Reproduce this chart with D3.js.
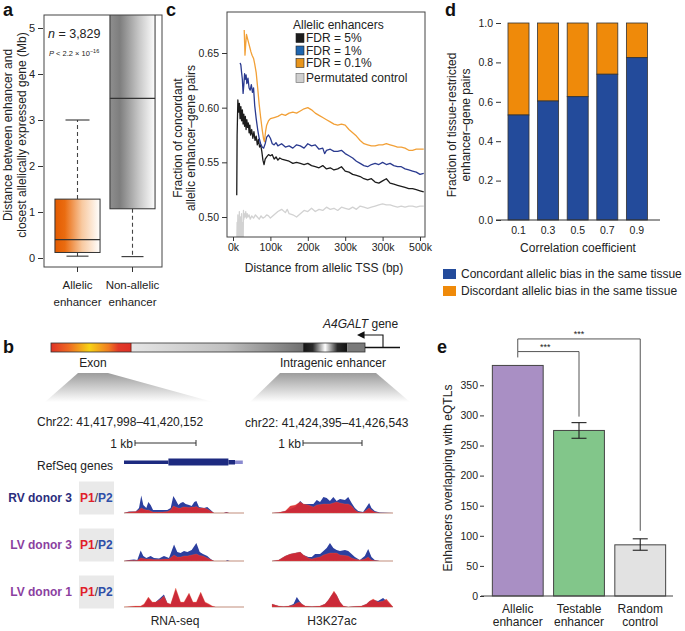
<!DOCTYPE html>
<html><head><meta charset="utf-8">
<script src="https://cdn.jsdelivr.net/npm/d3@7"></script>
<style>
body{margin:0;background:#fff}
svg{display:block}
text{font-family:"Liberation Sans",Arial,Helvetica,sans-serif}
</style>
</head><body><svg id="fig" width="685" height="631"></svg>
<script>
// ================= DATA =================
// Panel a
const boxCategories = ["Allelic enhancer", "Non-allelic enhancer"];
const boxLowerWhisker = [0.04, 0.03];
const boxQ1 = [0.12, 1.07];
const boxMedian = [0.40, 3.47];
const boxQ3 = [1.28, 6.0];
const boxUpperWhisker = [3.0, 8.0];
const boxYTicks = [0, 1, 2, 3, 4, 5];

// Panel c
const fdr5Dist = [10,11,13,15,17,19,21,23,25,27,29,31,33,35,37,39,41,43,45,47,50,53,56,59,62,65,68,71,74,77,80,83,86,90,95,100,105,110,115,120,125,130,140,150,160,170,180,190,200,210,220,230,240,250,260,270,280,290,300,310,320,330,340,350,360,370,380,390,400,410,420,430,440,450,460,470,480,490,500,510];
const fdr5Frac = [0.520,0.575,0.607,0.596,0.604,0.590,0.601,0.588,0.598,0.585,0.594,0.583,0.592,0.580,0.589,0.582,0.586,0.577,0.584,0.575,0.580,0.572,0.578,0.570,0.574,0.566,0.571,0.564,0.566,0.560,0.552,0.548,0.553,0.555,0.557,0.556,0.557,0.553,0.555,0.552,0.554,0.553,0.552,0.551,0.549,0.550,0.549,0.548,0.549,0.547,0.546,0.545,0.547,0.544,0.545,0.543,0.544,0.546,0.542,0.541,0.539,0.538,0.537,0.535,0.534,0.535,0.532,0.531,0.533,0.535,0.531,0.530,0.529,0.528,0.527,0.526,0.526,0.525,0.524,0.523];
const fdr1Dist = [19,21,23,25,27,29,31,33,35,37,40,43,46,49,52,55,58,62,66,70,74,78,82,86,90,95,100,105,110,115,120,130,140,150,160,170,180,190,200,210,220,230,240,245,250,260,270,280,290,300,310,320,330,340,350,360,370,380,390,400,410,420,430,440,450,460,470,480,490,500,510];
const fdr1Frac = [0.641,0.639,0.632,0.626,0.613,0.621,0.631,0.626,0.630,0.622,0.627,0.618,0.616,0.621,0.614,0.618,0.602,0.590,0.580,0.572,0.567,0.564,0.563,0.567,0.573,0.575,0.572,0.567,0.566,0.568,0.565,0.567,0.564,0.565,0.563,0.566,0.565,0.563,0.567,0.565,0.566,0.562,0.563,0.558,0.561,0.562,0.560,0.560,0.561,0.558,0.556,0.554,0.551,0.549,0.547,0.546,0.548,0.549,0.548,0.550,0.548,0.549,0.547,0.546,0.546,0.544,0.543,0.542,0.541,0.539,0.540];
const fdr01Dist = [30,31,32,34,36,39,42,45,48,51,55,58,62,66,70,74,78,82,84,87,90,95,100,110,120,130,140,150,160,170,180,190,200,210,220,230,240,250,260,270,280,290,300,310,320,330,340,350,360,370,380,390,400,410,420,430,440,450,460,470,480,490,500,510];
const fdr01Frac = [0.671,0.660,0.648,0.658,0.667,0.663,0.659,0.655,0.651,0.648,0.645,0.640,0.632,0.618,0.603,0.591,0.580,0.571,0.569,0.578,0.584,0.588,0.590,0.591,0.592,0.594,0.593,0.595,0.596,0.595,0.597,0.599,0.600,0.598,0.595,0.593,0.591,0.589,0.587,0.585,0.584,0.585,0.584,0.580,0.577,0.574,0.570,0.567,0.566,0.565,0.565,0.566,0.566,0.567,0.566,0.565,0.564,0.564,0.563,0.561,0.561,0.562,0.562,0.562];
const permDist = [10,11,12,13,14,15,16,17,18,19,20,21,22,23,24,25,26,27,28,29,30,32,34,36,38,40,43,46,50,55,60,65,70,75,80,85,90,95,100,110,120,130,140,145,150,160,170,180,190,200,210,220,230,240,250,260,270,280,290,300,310,320,330,340,350,360,370,380,390,400,410,420,430,440,450,460,470,480,490,500,510];
const permFrac = [0.470,0.495,0.478,0.502,0.470,0.497,0.485,0.505,0.470,0.490,0.500,0.470,0.478,0.503,0.470,0.470,0.495,0.470,0.506,0.498,0.503,0.500,0.505,0.499,0.503,0.500,0.502,0.498,0.501,0.499,0.502,0.500,0.498,0.501,0.499,0.500,0.502,0.501,0.499,0.502,0.505,0.507,0.504,0.507,0.503,0.502,0.500,0.503,0.506,0.505,0.508,0.505,0.507,0.506,0.509,0.507,0.508,0.506,0.509,0.508,0.507,0.509,0.507,0.510,0.509,0.508,0.509,0.510,0.511,0.512,0.511,0.511,0.510,0.509,0.510,0.509,0.510,0.510,0.509,0.510,0.510];
const cXTicks = [0, 100, 200, 300, 400, 500];
const cXTickLabels = ["0k", "100k", "200k", "300k", "300k", "500k"];
const cYTicks = [0.50, 0.55, 0.60, 0.65];
const cLegendLabels = ["FDR = 5%", "FDR = 1%", "FDR = 0.1%", "Permutated control"];

// Panel d
const corrCategories = ["0.1", "0.3", "0.5", "0.7", "0.9"];
const concordantFrac = [0.533, 0.604, 0.626, 0.740, 0.824];
const discordantFrac = [0.467, 0.396, 0.374, 0.260, 0.176];
const dYTicks = [0, 0.2, 0.4, 0.6, 0.8, 1.0];

// Panel e
const eqtlCategories = ["Allelic enhancer", "Testable enhancer", "Random control"];
const eqtlCounts = [383, 275, 85];
const eqtlErrLow = [null, 262, 76];
const eqtlErrHigh = [null, 288, 95];
const eYTicks = [0, 50, 100, 150, 200, 250, 300, 350];

// Panel b tracks (position = % of window, heights in signal units)
const rna1Pos = [0,4.2,9.7,12.5,14.4,16.1,18.6,20.3,22.2,24.2,27.8,31.9,36.1,38.9,41.1,43.1,45.3,47.2,49.2,51.4,54.2,56.4,58.6,60.3,62.5,66.7,69.4,72.2,75,83.3,85.3,87.5,100];
const rna1P2 = [0,1.5,1.5,5,17.5,8,5,11,8,3,3,3,3,5,17,13,8,10,11,9,8,7,11,12,6,5,6,3,0,0,1,0,0];
const rna1P1 = [0,1,1.5,3,5,4,3,3,2,1,1,1,1.5,3,7,6,5,5,6,6,5.5,6,6,6.5,5,5,4,2,0,0,0.5,0,0];
const rna2Pos = [0,4.2,8.3,11.1,13.9,16.1,18.6,22.2,25,29.2,33.3,37.5,41.7,44.4,47.2,50,52.8,56.4,60.3,63.1,65.8,69.4,72.2,75,84.7,86.1,88.1,100];
const rna2P2 = [0,1,1.5,1,10.5,5,3,5,3,2.5,5,3,16.5,9,8,10,9,11,18,9,7,5,2,0,0,0.8,0,0];
const rna2P1 = [0,0.5,0.5,0.5,3,2.5,2,2,1.5,1.5,2,2,6,4,4,5,5,6,7,5.5,5,3,1.5,0,0,0,0,0];
const rna3Pos = [0,2.8,9.7,13.9,16.7,20.3,23.6,26.4,30.6,33.3,36.1,38.9,43.1,47.2,50,54.2,57.5,60.3,63.9,67.5,70.8,73.6,76.4,87.5,100];
const rna3P2 = [0,0,0.5,0.5,2,9,4,5,9.5,12.5,4,2.5,17,4,4,13,4,4,14,4,2,0.5,0,0,0];
const rna3P1 = [0,0.3,1,1,3,10,5,5,8,11,4,3,19,5,5,14,5,5,15,5,3,1,0,0,0];
const k27a1Pos = [0,5.5,11,15.1,19.2,23.3,26,30.1,34.2,37,39.7,42.5,45.2,47.9,50.7,53.4,56.2,60.3,63,65.8,68.5,71.2,75.3,78.1,80.3,82.2,84.9,89,100];
const k27a1P2 = [0,0.5,2,4,6,12,9,9,9,13,11,16,15,12,16,12,14,13,16,10,5,2,1,6,10,5,2,0.5,0];
const k27a1P1 = [0,0.5,2,7,8,11,9,8,6,8,8.5,9,9,9,10,11,10,9,9,7,3,1,0.5,3,5,3,1,0,0];
const k27a2Pos = [0,5.5,11,15.1,19.2,23.3,26,30.1,32.9,35.6,39.7,42.5,45.2,47.9,50.7,53.4,56.2,60.3,63,65.8,68.5,72.6,76.7,79.5,82.2,84.9,89,100];
const k27a2P2 = [0,1,5,7,8,9,6,4,4,7,7,10,13,18,13,11,10,11,10,7,4,1,5,12,4,1,0,0];
const k27a2P1 = [0,1,5,7,8,9,6,3,2,3,4,6,7,8,8,8,6,5.5,5,3,2,1,2,4,1,0.5,0,0];
const k27a3Pos = [0,2.7,5.5,9.6,13.7,17.8,20.5,22.7,24.7,27.4,32.9,39.7,43.8,46.6,49.3,51.2,53.4,56.2,58.9,63,67.1,74,78.1,80.8,83.6,87.7,91.8,94.5,97.3,100];
const k27a3P2 = [3,2,1,0.5,1,3,10,6,3,1,0.5,1,3,7,12,15,12,5,1,0,0.5,1,3,6,7,6,9,6,3,0];
const k27a3P1 = [3,2,1,0.5,1,2,4,5,3,1,0.5,1,3,7,12,16,12,5,1,0,0.5,1,3,6,8,5,6,8,4,0];
const donorLabels = ["RV donor 3", "LV donor 3", "LV donor 1"];

// ================= DRAW =================
const svg = d3.select("#fig").attr("fill", "#222");
svg.append("rect").attr("width", 685).attr("height", 631).attr("fill", "#fff");
const defs = svg.append("defs");
function lin(id, stops, vertical) {
  const g = defs.append("linearGradient").attr("id", id)
    .attr("x1", 0).attr("y1", 0).attr("x2", vertical ? 0 : 1).attr("y2", vertical ? 1 : 0);
  stops.forEach(s => g.append("stop").attr("offset", s[0]).attr("stop-color", s[1]));
}
lin("gOrange", [["0%", "#e35a00"], ["22%", "#ea6c10"], ["60%", "#f8c9a0"], ["100%", "#ffffff"]]);
lin("gGray", [["0%", "#8e8e8e"], ["22%", "#7e7e7e"], ["65%", "#c8c8c8"], ["100%", "#fdfdfd"]]);
lin("gExon", [["0%", "#df3226"], ["22%", "#ee6a22"], ["48%", "#f7d214"], ["72%", "#f07c22"], ["84%", "#e23a28"], ["100%", "#de3026"]]);
lin("gBody", [["0%", "#e6e6e6"], ["55%", "#c0c0c0"], ["100%", "#707070"]]);
lin("gEnh", [["0%", "#141414"], ["22%", "#2a2a2a"], ["50%", "#ffffff"], ["78%", "#2a2a2a"], ["100%", "#111"]]);
lin("gTrap", [["0%", "#9c9c9c"], ["100%", "#ffffff"]], true);

function label(x, y, s) {
  svg.append("text").attr("x", x).attr("y", y).text(s)
    .attr("font-size", 18).attr("font-weight", "bold").attr("fill", "#111");
}
function rotText(x, y, s, size) {
  svg.append("text").attr("transform", `translate(${x},${y}) rotate(-90)`)
    .attr("text-anchor", "middle").attr("dy", "0.35em").attr("font-size", size || 12).text(s);
}
function styleAxis(g, size) {
  g.select(".domain").remove();
  g.selectAll(".tick line").attr("stroke", "#333");
  g.selectAll(".tick text").attr("font-size", size || 10.5).attr("fill", "#222")
    .attr("font-family", '"Liberation Sans",Arial,sans-serif');
}

// ---------- Panel a ----------
label(3, 16, "a");
const aFrame = { x0: 44, x1: 162, y0: 15, y1: 267 };
const aY = d3.scaleLinear().domain([0, 5]).range([258, 28]);
const aX = d3.scaleBand().domain(boxCategories).range([50, 160]);
defs.append("clipPath").attr("id", "clipA").append("rect")
  .attr("x", aFrame.x0).attr("y", aFrame.y0).attr("width", aFrame.x1 - aFrame.x0).attr("height", aFrame.y1 - aFrame.y0);
const aG = svg.append("g").attr("clip-path", "url(#clipA)");
const boxW = aX.bandwidth() * 0.82;
const fills = ["url(#gOrange)", "url(#gGray)"];
boxCategories.forEach((c, i) => {
  const cx = aX(c) + aX.bandwidth() / 2;
  aG.append("line").attr("x1", cx).attr("x2", cx).attr("y1", aY(boxQ1[i])).attr("y2", aY(boxLowerWhisker[i]))
    .attr("stroke", "#444").attr("stroke-dasharray", "4,3").attr("stroke-width", 1.1);
  aG.append("line").attr("x1", cx - 11).attr("x2", cx + 11).attr("y1", aY(boxLowerWhisker[i])).attr("y2", aY(boxLowerWhisker[i]))
    .attr("stroke", "#333").attr("stroke-width", 1.1);
  aG.append("line").attr("x1", cx).attr("x2", cx).attr("y1", aY(boxQ3[i])).attr("y2", aY(boxUpperWhisker[i]))
    .attr("stroke", "#444").attr("stroke-dasharray", "4,3").attr("stroke-width", 1.1);
  aG.append("line").attr("x1", cx - 12).attr("x2", cx + 12).attr("y1", aY(boxUpperWhisker[i])).attr("y2", aY(boxUpperWhisker[i]))
    .attr("stroke", "#333").attr("stroke-width", 1.1);
  aG.append("rect").attr("x", cx - boxW / 2).attr("width", boxW)
    .attr("y", aY(boxQ3[i])).attr("height", aY(boxQ1[i]) - aY(boxQ3[i]))
    .attr("fill", fills[i]).attr("stroke", "#333").attr("stroke-width", 1);
  aG.append("line").attr("x1", cx - boxW / 2).attr("x2", cx + boxW / 2).attr("y1", aY(boxMedian[i])).attr("y2", aY(boxMedian[i]))
    .attr("stroke", "#333").attr("stroke-width", 1.2);
});
svg.append("rect").attr("x", aFrame.x0).attr("y", aFrame.y0).attr("width", aFrame.x1 - aFrame.x0).attr("height", aFrame.y1 - aFrame.y0)
  .attr("fill", "none").attr("stroke", "#444").attr("stroke-width", 1);
const aYAxis = svg.append("g").attr("transform", `translate(${aFrame.x0 - 1},0)`)
  .call(d3.axisLeft(aY).tickValues(boxYTicks).tickSize(5).tickPadding(3).tickFormat(d3.format("d")));
styleAxis(aYAxis, 11);
const aXAxis = svg.append("g").attr("transform", `translate(0,${aFrame.y1})`)
  .call(d3.axisBottom(aX).tickSize(5).tickFormat(""));
styleAxis(aXAxis);
boxCategories.forEach(c => {
  const cx = aX(c) + aX.bandwidth() / 2;
  const parts = c.split(" ");
  svg.append("text").attr("x", cx).attr("y", 289).attr("text-anchor", "middle").attr("font-size", 11.5).text(parts[0]);
  svg.append("text").attr("x", cx).attr("y", 306).attr("text-anchor", "middle").attr("font-size", 11.5).text(parts[1]);
});
rotText(8, 135, "Distance between enhancer and", 12);
rotText(22, 135, "closest allelically expressed gene (Mb)", 12);
const nT = svg.append("text").attr("x", 48).attr("y", 38).attr("font-size", 12.5);
nT.append("tspan").attr("font-style", "italic").text("n");
nT.append("tspan").text(" = 3,829");
const pT = svg.append("text").attr("x", 49).attr("y", 56).attr("font-size", 7.5);
pT.append("tspan").attr("font-style", "italic").text("P");
pT.append("tspan").text(" < 2.2 × 10");
pT.append("tspan").attr("font-size", 5.5).attr("dy", -3).text("−16");

// ---------- Panel c ----------
label(166, 16, "c");
const cFrame = { x0: 227, x1: 425, y0: 12, y1: 237 };
const cX = d3.scaleLinear().domain([0, 500]).range([233, 420]);
const cY = d3.scaleLinear().domain([0.50, 0.65]).range([217, 53]);
defs.append("clipPath").attr("id", "clipC").append("rect")
  .attr("x", cFrame.x0).attr("y", cFrame.y0).attr("width", cFrame.x1 - cFrame.x0).attr("height", cFrame.y1 - cFrame.y0);
const cG = svg.append("g").attr("clip-path", "url(#clipC)");
const series = [
  { d: permDist, f: permFrac, c: "#d2d2d2" },
  { d: fdr5Dist, f: fdr5Frac, c: "#1c1c1c" },
  { d: fdr1Dist, f: fdr1Frac, c: "#2a3a8f" },
  { d: fdr01Dist, f: fdr01Frac, c: "#f2a037" }
];
series.forEach(s => {
  const line = d3.line().x((d, i) => cX(s.d[i])).y(d => cY(d));
  cG.append("path").attr("d", line(s.f)).attr("fill", "none").attr("stroke", s.c)
    .attr("stroke-width", 1.3).attr("stroke-linejoin", "round");
});
svg.append("rect").attr("x", cFrame.x0).attr("y", cFrame.y0).attr("width", cFrame.x1 - cFrame.x0).attr("height", cFrame.y1 - cFrame.y0)
  .attr("fill", "none").attr("stroke", "#444").attr("stroke-width", 1);
const cYAxis = svg.append("g").attr("transform", `translate(${cFrame.x0},0)`)
  .call(d3.axisLeft(cY).tickValues(cYTicks).tickSize(5).tickPadding(3).tickFormat(d3.format(".2f")));
styleAxis(cYAxis, 10.5);
const cXAxis = svg.append("g").attr("transform", `translate(0,${cFrame.y1})`)
  .call(d3.axisBottom(cX).tickValues(cXTicks).tickSize(4).tickPadding(3).tickFormat((d, i) => cXTickLabels[i]));
styleAxis(cXAxis, 10.5);
svg.append("text").attr("x", 324).attr("y", 272).attr("text-anchor", "middle").attr("font-size", 12).text("Distance from allelic TSS (bp)");
rotText(178, 138, "Fraction of concordant", 12);
rotText(191, 138, "allelic enhancer–gene pairs", 12);
svg.append("text").attr("x", 293).attr("y", 29).attr("font-size", 12).text("Allelic enhancers");
const legCols = ["#1c1c1c", "#1f66b0", "#e8951c", "#cfcfcf"];
const legY = [38, 50.5, 63, 78];
cLegendLabels.forEach((t, i) => {
  svg.append("rect").attr("x", 296).attr("y", legY[i] - 4.5).attr("width", 8).attr("height", 9)
    .attr("fill", legCols[i]).attr("stroke", i === 3 ? "#666" : "#222").attr("stroke-width", 0.6);
  svg.append("text").attr("x", 306).attr("y", legY[i] + 4.3).attr("font-size", 12).text(t);
});

// ---------- Panel d ----------
label(445, 16, "d");
const dX = d3.scaleBand().domain(corrCategories).range([503.7, 651.7]).paddingInner(0.29).paddingOuter(0.145);
const dY = d3.scaleLinear().domain([0, 1]).range([220, 23]);
corrCategories.forEach((c, i) => {
  svg.append("rect").attr("x", dX(c)).attr("width", dX.bandwidth())
    .attr("y", dY(1)).attr("height", dY(concordantFrac[i]) - dY(concordantFrac[i] + discordantFrac[i]))
    .attr("fill", "#ef8a0a").attr("stroke", "#333").attr("stroke-width", 0.8);
  svg.append("rect").attr("x", dX(c)).attr("width", dX.bandwidth())
    .attr("y", dY(concordantFrac[i])).attr("height", dY(0) - dY(concordantFrac[i]))
    .attr("fill", "#234b9b").attr("stroke", "#333").attr("stroke-width", 0.8);
});
svg.append("line").attr("x1", 496).attr("x2", 660).attr("y1", dY(0)).attr("y2", dY(0)).attr("stroke", "#333").attr("stroke-width", 1);
const dYAxis = svg.append("g").attr("transform", "translate(501,0)")
  .call(d3.axisLeft(dY).tickValues(dYTicks).tickSize(5).tickPadding(3).tickFormat(d3.format(".1f")));
styleAxis(dYAxis, 10.5);
corrCategories.forEach(c => {
  svg.append("text").attr("x", dX(c) + dX.bandwidth() / 2).attr("y", 234).attr("text-anchor", "middle").attr("font-size", 10.5).text(c);
});
svg.append("text").attr("x", 578).attr("y", 252).attr("text-anchor", "middle").attr("font-size", 12).text("Correlation coefficient");
rotText(452, 125, "Fraction of tissue-restricted", 12);
rotText(466, 125, "enhancer–gene pairs", 12);
[["#234b9b", "Concordant allelic bias in the same tissue", 269], ["#ef8a0a", "Discordant allelic bias in the same tissue", 286]].forEach(l => {
  svg.append("rect").attr("x", 443).attr("y", l[2]).attr("width", 13).attr("height", 10).attr("fill", l[0]);
  svg.append("text").attr("x", 461).attr("y", l[2] + 9).attr("font-size", 12).text(l[1]);
});

// ---------- Panel b ----------
label(3, 353, "b");
const schem = d3.scaleLinear().domain([0, 100]).range([51, 365]);
const barY = 343, barH = 9;
svg.append("rect").attr("x", schem(0)).attr("y", barY).attr("width", schem(25.5) - schem(0)).attr("height", barH).attr("fill", "url(#gExon)");
svg.append("rect").attr("x", schem(25.5)).attr("y", barY).attr("width", schem(80.3) - schem(25.5)).attr("height", barH).attr("fill", "url(#gBody)");
svg.append("rect").attr("x", schem(80.3)).attr("y", barY).attr("width", schem(94.3) - schem(80.3)).attr("height", barH).attr("fill", "url(#gEnh)");
svg.append("rect").attr("x", schem(94.3)).attr("y", barY).attr("width", schem(100) - schem(94.3)).attr("height", barH).attr("fill", "#7a7a7a");
svg.append("rect").attr("x", schem(0)).attr("y", barY).attr("width", schem(100) - schem(0)).attr("height", barH)
  .attr("fill", "none").attr("stroke", "#333").attr("stroke-width", 0.8);
svg.append("line").attr("x1", schem(25.5)).attr("x2", schem(25.5)).attr("y1", barY).attr("y2", barY + barH).attr("stroke", "#6a1a10").attr("stroke-width", 0.8);
svg.append("line").attr("x1", schem(100)).attr("x2", 400).attr("y1", barY + barH / 2).attr("y2", barY + barH / 2).attr("stroke", "#111").attr("stroke-width", 1.5);
defs.append("marker").attr("id", "arr").attr("viewBox", "0 0 10 10").attr("refX", 2).attr("refY", 5)
  .attr("markerWidth", 7).attr("markerHeight", 7).attr("orient", "auto-start-reverse")
  .append("path").attr("d", "M0,0 L10,5 L0,10 z").attr("fill", "#111");
svg.append("path").attr("d", `M383,${barY + barH / 2} V335 H363`).attr("fill", "none").attr("stroke", "#111").attr("stroke-width", 1.1)
  .attr("marker-end", "url(#arr)");
const gt = svg.append("text").attr("x", 323).attr("y", 328).attr("font-size", 12);
gt.append("tspan").attr("font-style", "italic").text("A4GALT");
gt.append("tspan").text(" gene");
svg.append("text").attr("x", 93).attr("y", 367).attr("text-anchor", "middle").attr("font-size", 12).text("Exon");
svg.append("text").attr("x", 333).attr("y", 367).attr("text-anchor", "middle").attr("font-size", 12).text("Intragenic enhancer");
svg.append("path").attr("d", "M78,373 L108,373 L213,402 L45,402 Z").attr("fill", "url(#gTrap)");
svg.append("path").attr("d", "M280,373 L376,373 L410,402 L250,402 Z").attr("fill", "url(#gTrap)");
svg.append("text").attr("x", 37).attr("y", 426).attr("font-size", 12).text("Chr22: 41,417,998–41,420,152");
svg.append("text").attr("x", 245).attr("y", 427).attr("font-size", 12).text("chr22: 41,424,395–41,426,543");
function scaleBar(tx, x0, x1, y) {
  svg.append("text").attr("x", tx).attr("y", y + 4.5).attr("text-anchor", "end").attr("font-size", 12).text("1 kb");
  svg.append("line").attr("x1", x0).attr("x2", x1).attr("y1", y).attr("y2", y).attr("stroke", "#333").attr("stroke-width", 1);
  [x0, x1].forEach(x => svg.append("line").attr("x1", x).attr("x2", x).attr("y1", y - 3).attr("y2", y + 3).attr("stroke", "#333").attr("stroke-width", 1));
}
scaleBar(133, 135, 196, 443);
scaleBar(301, 303, 362, 443);
svg.append("text").attr("x", 37).attr("y", 470).attr("font-size", 12).text("RefSeq genes");
const rnaX = d3.scaleLinear().domain([0, 100]).range([124, 244]);
const k27X = d3.scaleLinear().domain([0, 100]).range([272, 393]);
svg.append("rect").attr("x", rnaX(0)).attr("y", 460.5).attr("width", rnaX(37) - rnaX(0)).attr("height", 3.5).attr("fill", "#1d2a80");
svg.append("rect").attr("x", rnaX(37)).attr("y", 458.5).attr("width", rnaX(87) - rnaX(37)).attr("height", 7).attr("fill", "#1d2a80");
svg.append("rect").attr("x", rnaX(87)).attr("y", 460).attr("width", rnaX(92.5) - rnaX(87)).attr("height", 4.5).attr("fill", "#1d2a80");
svg.append("rect").attr("x", rnaX(92.5)).attr("y", 460.5).attr("width", rnaX(99) - rnaX(92.5)).attr("height", 3.5).attr("fill", "#8a8ad0");

const rowBase = [513, 561, 607];
const rowCenter = [498, 545, 592];
const donorColors = ["#2b2d7c", "#8b3fa0", "#8b3fa0"];
donorLabels.forEach((d, i) => {
  svg.append("text").attr("x", 72).attr("y", rowCenter[i] + 4.3).attr("text-anchor", "end")
    .attr("font-size", 12).attr("font-weight", "bold").attr("fill", donorColors[i]).text(d);
  svg.append("rect").attr("x", 79).attr("y", rowCenter[i] - 16.5).attr("width", 35).attr("height", 33).attr("fill", "#e9e9e9");
  const p = svg.append("text").attr("x", 80).attr("y", rowCenter[i] + 4.3).attr("font-size", 12).attr("font-weight", "bold");
  p.append("tspan").attr("fill", "#e0202a").text("P1");
  p.append("tspan").attr("fill", "#333").attr("font-weight", "normal").text("/");
  p.append("tspan").attr("fill", "#2e4fa8").text("P2");
});
const hScale = d3.scaleLinear().domain([0, 20]).range([0, 20]);
function drawTrack(xs, base, pos, p1, p2) {
  svg.append("line").attr("x1", xs(0)).attr("x2", xs(100)).attr("y1", base).attr("y2", base).attr("stroke", "#bbb").attr("stroke-width", 1);
  const area = d3.area().x((d, i) => xs(pos[i])).y0(base).y1(d => base - hScale(d));
  svg.append("path").attr("d", area(p2)).attr("fill", "#2c3f9f");
  svg.append("path").attr("d", area(p1)).attr("fill", "#d9282f").attr("fill-opacity", 0.92)
    .attr("stroke", "#f07a50").attr("stroke-width", 0.4).attr("stroke-opacity", 0.6);
}
drawTrack(rnaX, rowBase[0], rna1Pos, rna1P1, rna1P2);
drawTrack(rnaX, rowBase[1], rna2Pos, rna2P1, rna2P2);
drawTrack(rnaX, rowBase[2], rna3Pos, rna3P1, rna3P2);
drawTrack(k27X, rowBase[0], k27a1Pos, k27a1P1, k27a1P2);
drawTrack(k27X, rowBase[1], k27a2Pos, k27a2P1, k27a2P2);
drawTrack(k27X, rowBase[2], k27a3Pos, k27a3P1, k27a3P2);
svg.append("text").attr("x", 175).attr("y", 625).attr("text-anchor", "middle").attr("font-size", 12).text("RNA-seq");
svg.append("text").attr("x", 332).attr("y", 625).attr("text-anchor", "middle").attr("font-size", 12).text("H3K27ac");

// ---------- Panel e ----------
label(437, 353, "e");
const eX = d3.scaleBand().domain(eqtlCategories).range([485, 673]).paddingInner(0.17).paddingOuter(0.12);
const eY = d3.scaleLinear().domain([0, 350]).range([596, 385.3]);
const eCols = ["#a98fc4", "#82c68a", "#e2e2e2"];
eqtlCategories.forEach((c, i) => {
  svg.append("rect").attr("x", eX(c)).attr("width", eX.bandwidth()).attr("y", eY(eqtlCounts[i]))
    .attr("height", eY(0) - eY(eqtlCounts[i])).attr("fill", eCols[i]).attr("stroke", "#444").attr("stroke-width", 1);
  if (eqtlErrLow[i] !== null) {
    const cx = eX(c) + eX.bandwidth() / 2;
    svg.append("line").attr("x1", cx).attr("x2", cx).attr("y1", eY(eqtlErrLow[i])).attr("y2", eY(eqtlErrHigh[i])).attr("stroke", "#222").attr("stroke-width", 1.1);
    [eqtlErrLow[i], eqtlErrHigh[i]].forEach(v => svg.append("line").attr("x1", cx - 7.5).attr("x2", cx + 7.5)
      .attr("y1", eY(v)).attr("y2", eY(v)).attr("stroke", "#222").attr("stroke-width", 1.1));
  }
});
svg.append("line").attr("x1", 481).attr("x2", 673).attr("y1", eY(0)).attr("y2", eY(0)).attr("stroke", "#444").attr("stroke-width", 1);
const eYAxis = svg.append("g").attr("transform", "translate(484,0)")
  .call(d3.axisLeft(eY).tickValues(eYTicks).tickSize(4).tickPadding(2));
styleAxis(eYAxis, 10.5);
eqtlCategories.forEach(c => {
  const cx = eX(c) + eX.bandwidth() / 2;
  const parts = c.split(" ");
  svg.append("text").attr("x", cx).attr("y", 613).attr("text-anchor", "middle").attr("font-size", 12).text(parts[0]);
  svg.append("text").attr("x", cx).attr("y", 626).attr("text-anchor", "middle").attr("font-size", 12).text(parts[1]);
});
rotText(448, 478, "Enhancers overlapping with eQTLs", 12);
// significance brackets
const bc = eqtlCategories.map(c => eX(c) + eX.bandwidth() / 2);
const b1 = eY(406), b2 = eY(427);
svg.append("path").attr("d", `M${bc[0]},${eY(eqtlCounts[0]) - 8} V${b1} H${bc[1]} V${eY(eqtlErrHigh[1]) - 6}`)
  .attr("fill", "none").attr("stroke", "#555").attr("stroke-width", 1);
svg.append("path").attr("d", `M${bc[0]},${b1} V${b2} H${bc[2]} V${eY(eqtlErrHigh[2]) - 8}`)
  .attr("fill", "none").attr("stroke", "#555").attr("stroke-width", 1);
svg.append("text").attr("x", (bc[0] + bc[1]) / 2 - 3).attr("y", b1 - 1.5).attr("text-anchor", "middle").attr("font-size", 9).text("***");
svg.append("text").attr("x", (bc[0] + bc[2]) / 2).attr("y", b2 - 1.5).attr("text-anchor", "middle").attr("font-size", 9).text("***");
</script></body></html>
